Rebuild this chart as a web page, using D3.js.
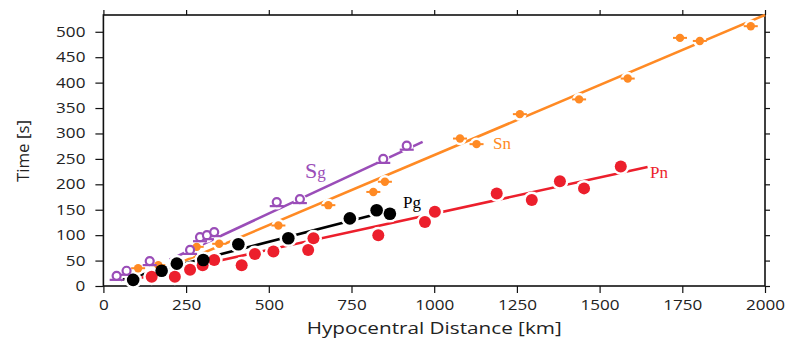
<!DOCTYPE html>
<html><head><meta charset="utf-8">
<script src="https://cdn.jsdelivr.net/npm/d3@7"></script>
<style>body{margin:0;background:#fff} svg{display:block}</style>
</head><body><svg id="c" width="786" height="343"></svg>
<script>
// ---- data ----
const xTicks = [0, 250, 500, 750, 1000, 1250, 1500, 1750, 2000];
const yTicks = [0, 50, 100, 150, 200, 250, 300, 350, 400, 450, 500];

const sgDist = [40, 70, 140, 262, 292, 313, 335, 524, 594, 846, 917];
const sgTime = [18, 28, 47, 69, 94, 98, 104, 163, 169, 248, 274];

const snDist = [105, 166, 282, 350, 529, 680, 816, 851, 1078, 1128, 1259, 1438, 1585, 1743, 1803, 1957];
const snTime = [35, 41, 77, 83, 119, 159, 185, 205, 290, 279, 338, 367, 408, 488, 482, 511];

const pgDist = [90, 176, 222, 302, 408, 559, 745, 826, 866];
const pgTime = [12, 30, 44, 51, 82, 94, 133, 149, 142];

const pnDist = [146, 216, 262, 300, 335, 418, 458, 514, 619, 635, 831, 972, 1002, 1189, 1295, 1380, 1453, 1564];
const pnTime = [18, 18, 32, 41, 51, 41, 63, 68, 71, 94, 100, 126, 146, 182, 169, 206, 192, 235];

// fitted lines: [distance, time] end points
const sgFit = [[200, 51.6], [965, 283.4]];
const snFit = [[170, 28.8], [2000, 533]];
const pgFit = [[50, 11.5], [880, 150.6]];
const pnFit = [[100, 14.3], [1645, 234]];

const colors = {Sg: "#9a4db8", Sn: "#ff8a24", Pg: "#000000", Pn: "#ec1f2c"};

// ---- layout ----
const svg = d3.select("#c");
const x = d3.scaleLinear().domain([0, 2000]).range([103.4, 765]);
const y = d3.scaleLinear().domain([0, 533]).range([286, 15]);
const [x0, x1] = x.range();
const [yb, yt] = y.range();
const fmt = d3.format("d");

svg.append("rect").attr("width", 786).attr("height", 343).attr("fill", "#fff");

function styleAxis(g) {
  g.select(".domain").remove();
  g.selectAll(".tick line").attr("stroke", "#111").attr("stroke-width", 1.2);
  g.selectAll("text").attr("font-family", "'Open Sans', sans-serif").attr("font-size", 14).attr("fill", "#222")
    .each(function () {
      const t = d3.select(this);
      const tx = +t.attr("x") || 0;
      t.attr("x", 0).attr("transform", `translate(${tx},0) scale(1.22,1)`);
    });
}

svg.append("g").attr("transform", `translate(${x0},0)`)
  .call(d3.axisLeft(y).tickValues(yTicks).tickFormat(fmt).tickSize(8).tickPadding(10))
  .call(g => styleAxis(g));
svg.append("g").attr("transform", `translate(0,${yb})`)
  .call(d3.axisBottom(x).tickValues(xTicks).tickFormat(fmt).tickSize(7).tickPadding(7))
  .call(g => styleAxis(g));
svg.append("g").attr("transform", `translate(0,${yt})`)
  .call(d3.axisTop(x).tickValues(xTicks).tickSize(5).tickFormat(""))
  .call(g => styleAxis(g));
svg.append("g").attr("transform", `translate(${x1},0)`)
  .call(d3.axisRight(y).tickValues(yTicks).tickSize(5).tickFormat(""))
  .call(g => styleAxis(g));

svg.append("rect").attr("x", x0).attr("y", yt).attr("width", x1 - x0).attr("height", yb - yt)
  .attr("fill", "none").attr("stroke", "#111").attr("stroke-width", 1.6);

// axis titles
svg.append("text").attr("x", (x0 + x1) / 2).attr("y", 334).attr("text-anchor", "middle")
  .attr("font-family", "'Open Sans', sans-serif").attr("font-size", 16).attr("fill", "#222")
  .attr("textLength", 255).attr("lengthAdjust", "spacingAndGlyphs")
  .text("Hypocentral Distance [km]");
svg.append("text").attr("transform", "translate(29,151) rotate(-90)").attr("text-anchor", "middle")
  .attr("font-family", "'Open Sans', sans-serif").attr("font-size", 16).attr("fill", "#222")
  .attr("textLength", 62).attr("lengthAdjust", "spacingAndGlyphs")
  .text("Time [s]");

// fit lines
const line = d3.line().x(d => x(d[0])).y(d => y(d[1]));
[[snFit, colors.Sn], [sgFit, colors.Sg], [pnFit, colors.Pn], [pgFit, colors.Pg]].forEach(([f, c]) => {
  svg.append("path").attr("d", line(f)).attr("stroke", c).attr("stroke-width", 2.6).attr("fill", "none");
});

const series = [
  {name: "Sn", dist: snDist, time: snTime, r: 4.2},
  {name: "Sg", dist: sgDist, time: sgTime, r: 4},
  {name: "Pn", dist: pnDist, time: pnTime, r: 6},
  {name: "Pg", dist: pgDist, time: pgTime, r: 6.3}
];

// white halos (break the lines around markers)
const halo = svg.append("g");
series.forEach(s => {
  halo.selectAll(null).data(s.dist.map((d, i) => [d, s.time[i]])).join("circle")
    .attr("cx", d => x(d[0])).attr("cy", d => y(d[1])).attr("r", s.r + 2.5).attr("fill", "#fff");
});

// markers
series.forEach(s => {
  const pts = s.dist.map((d, i) => [d, s.time[i]]);
  const g = svg.append("g");
  if (s.name === "Sg") {
    g.selectAll("line").data(pts).join("line")
      .attr("x1", d => x(d[0]) - 7).attr("x2", d => x(d[0]) + 7)
      .attr("y1", d => y(d[1]) + 3).attr("y2", d => y(d[1]) + 3)
      .attr("stroke", colors.Sg).attr("stroke-width", 2.2);
    g.selectAll("circle").data(pts).join("circle")
      .attr("cx", d => x(d[0])).attr("cy", d => y(d[1]) - 1).attr("r", s.r)
      .attr("fill", "#fff").attr("stroke", colors.Sg).attr("stroke-width", 2.2);
  } else {
    if (s.name === "Sn") {
      g.selectAll("line").data(pts).join("line")
        .attr("x1", d => x(d[0]) - 7).attr("x2", d => x(d[0]) + 7)
        .attr("y1", d => y(d[1])).attr("y2", d => y(d[1]))
        .attr("stroke", colors.Sn).attr("stroke-width", 2);
    }
    g.selectAll("circle").data(pts).join("circle")
      .attr("cx", d => x(d[0])).attr("cy", d => y(d[1])).attr("r", s.r)
      .attr("fill", colors[s.name]);
  }
});

// series labels
const lab = (tx, ty, c) => svg.append("text").attr("x", tx).attr("y", ty).attr("fill", c)
  .attr("font-family", "'Liberation Serif', 'Times New Roman', serif");
const sg = lab(305, 178, colors.Sg);
sg.append("tspan").attr("font-size", 22).text("S");
sg.append("tspan").attr("font-size", 17).text("g");
lab(493, 149, colors.Sn).attr("font-size", 17).text("Sn");
lab(403, 208, "#000").attr("font-size", 17).text("Pg");
lab(650, 178, colors.Pn).attr("font-size", 17).text("Pn");
</script>
</body></html>
